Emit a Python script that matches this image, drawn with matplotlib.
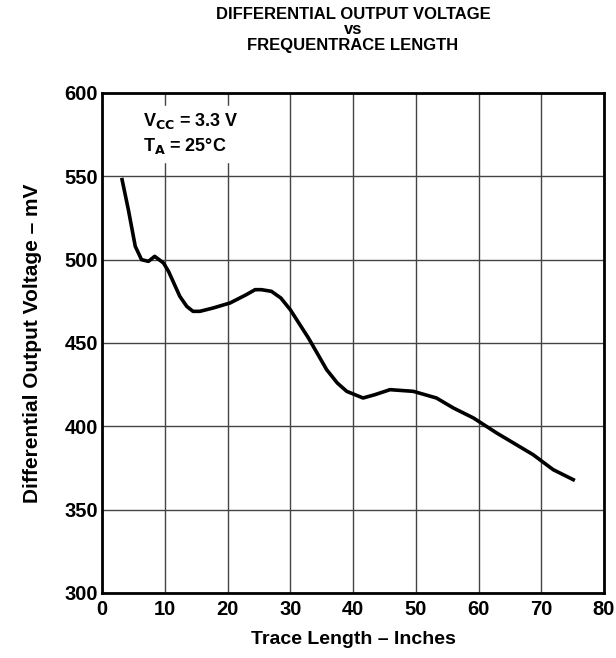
import matplotlib.pyplot as plt
import numpy as np

plt.rcParams['font.family'] = ['Liberation Sans', 'DejaVu Sans']
plt.rcParams['font.weight'] = 'bold'

# curve
trace_len = [3.2, 4.2, 5.3, 6.3, 7.4, 8.4, 9.8, 10.6, 12.4, 13.5, 14.5, 15.6, 17.7,
             20.4, 23.0, 24.4, 25.4, 27.0, 28.5, 30.0, 32.9, 35.8, 37.5, 39.0, 41.6, 43.5,
             45.9, 49.6, 53.3, 56.0, 59.2, 62.9, 68.7, 71.9, 75.1]
volt_mv = [548, 530, 508, 500, 499, 502, 498, 493, 478, 472, 469, 469, 471,
           474, 479, 482, 482, 481, 477, 470, 453, 434, 426, 421, 417, 419,
           422, 421, 417, 411, 405, 396, 383, 374, 368]

xticks = [0, 10, 20, 30, 40, 50, 60, 70, 80]
yticks = [300, 350, 400, 450, 500, 550, 600]
title_lines = ['DIFFERENTIAL OUTPUT VOLTAGE', 'vs', 'FREQUENTRACE LENGTH']
title_baselines = [19, 34, 50]

fig = plt.figure(figsize=(6.16, 6.58), dpi=100)
ax = fig.add_axes([102/616, 1 - 593/658, 502/616, 500/658])

ax.plot(trace_len, volt_mv, color='black', lw=2.6, solid_joinstyle='round')
ax.set_xlim(0, 80)
ax.set_ylim(300, 600)
ax.set_xticks(xticks)
ax.set_yticks(yticks)
ax.grid(True, color='#444444', lw=1.0)
ax.set_axisbelow(True)
ax.tick_params(length=0, labelsize=14.5)
ax.tick_params(axis='x', pad=5)
ax.tick_params(axis='y', pad=3)
for lab in ax.get_xticklabels() + ax.get_yticklabels():
    lab.set_fontweight('bold')
for sp in ax.spines.values():
    sp.set_linewidth(2)

ax.set_xlabel('Trace Length – Inches', fontsize=14, fontweight='bold', labelpad=9)
ax.set_ylabel('Differential Output Voltage – mV', fontsize=15, fontweight='bold', labelpad=16)

ax.text(6.5, 583, r'V$_{\mathbf{CC}}$ = 3.3 V', fontsize=13, fontweight='bold', va='center',
        backgroundcolor='white')
ax.text(6.5, 568, r'T$_{\mathbf{A}}$ = 25°C', fontsize=13, fontweight='bold', va='center',
        backgroundcolor='white')

# title: three lines placed separately to get the spacing
for line, yb in zip(title_lines, title_baselines):
    fig.text(353/616, 1 - yb/658, line, ha='center', va='baseline',
             fontsize=12, fontweight='bold')

fig.savefig('out.png', dpi=100)
